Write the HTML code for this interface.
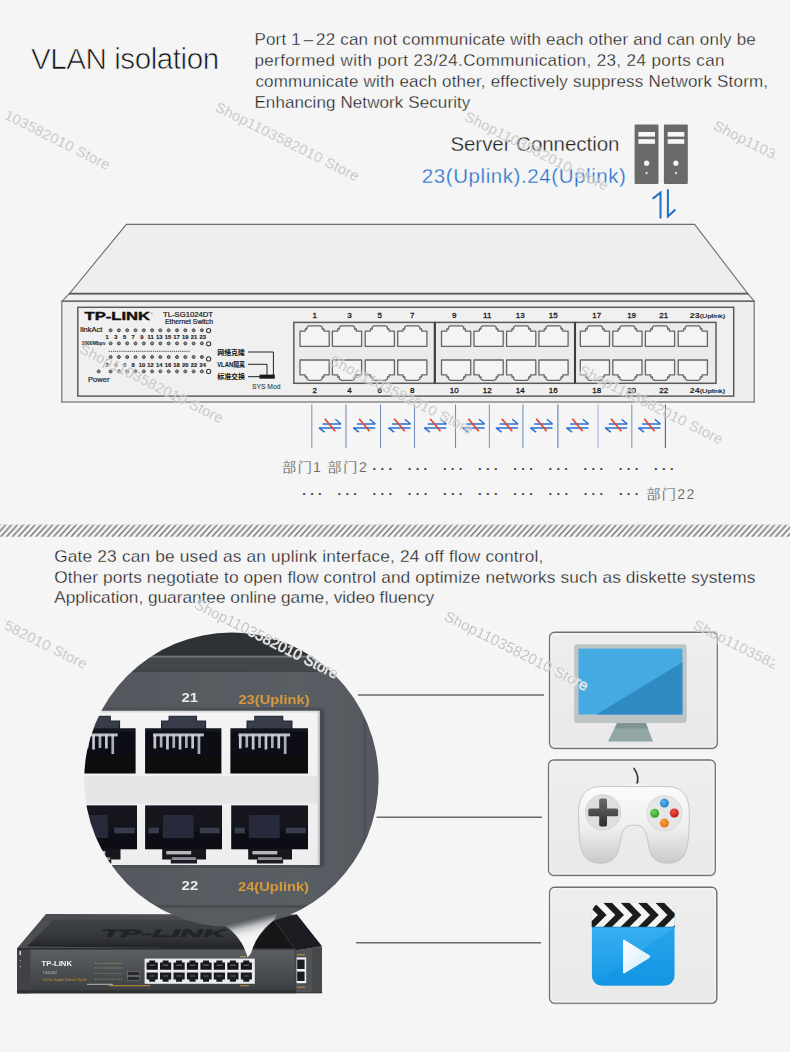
<!DOCTYPE html>
<html lang="en">
<head>
<meta charset="utf-8">
<title>VLAN isolation</title>
<style>
html,body{margin:0;padding:0;}
body{width:790px;height:1052px;overflow:hidden;background:#f5f5f5;position:relative;
  font-family:"Liberation Sans","Noto Sans CJK SC",sans-serif;color:#222;}
#stage{position:absolute;left:0;top:0;width:790px;height:1052px;overflow:hidden;background:#f5f5f5;}
.t{position:absolute;white-space:nowrap;margin:0;}
.thin{-webkit-text-stroke:0.3px #f5f5f5;}
#h1{left:30px;top:39px;font-size:29.6px;line-height:36px;color:#111;-webkit-text-stroke:0.7px #f5f5f5;}
.p1{left:255px;font-size:17px;line-height:20px;color:#1a1a1a;}
.p2{left:54px;font-size:17.3px;line-height:21px;color:#1a1a1a;}
#sc{left:450px;top:131px;font-size:20.5px;line-height:24px;color:#222;}
#up{left:423px;top:164px;font-size:20.5px;line-height:24px;color:#1e6fcb;}
svg{position:absolute;left:0;top:0;}
.wm{font-family:"Liberation Sans",sans-serif;font-size:15px;fill:#b9b9b9;fill-opacity:.85;stroke:#ffffff;stroke-width:1.2px;stroke-opacity:.5;paint-order:stroke;}
.wl{fill:#ececec;fill-opacity:.95;stroke:none;}
/*FIT*/
#h1{left:31.0px;top:41.0px;letter-spacing:-0.462px;}
#a1{left:254.4px;top:30.4px;letter-spacing:0.183px;}
#a2{left:254.4px;top:51.4px;letter-spacing:0.397px;}
#a3{left:255.4px;top:71.8px;letter-spacing:0.194px;}
#a4{left:254.4px;top:92.6px;letter-spacing:0.096px;}
#sc{left:450.4px;top:132.4px;letter-spacing:-0.049px;}
#up{left:421.8px;top:164.2px;letter-spacing:0.580px;}
#b1{left:54.2px;top:546.0px;letter-spacing:0.175px;}
#b2{left:54.2px;top:567.0px;letter-spacing:0.120px;}
#b3{left:54.2px;top:587.4px;letter-spacing:-0.029px;}
/*ENDFIT*/
</style>
</head>
<body>
<div id="stage">

<!-- GRAPHICS LAYER -->
<svg id="gfx" width="790" height="1052" viewBox="0 0 790 1052">
<defs>
  <pattern id="hatch" width="5.87" height="12.4" patternUnits="userSpaceOnUse" patternTransform="translate(0.6 524.5)">
    <path d="M-17.61 12.4 L-6.41 0 M-11.74 12.4 L-0.54 0 M-5.87 12.4 L5.33 0 M0 12.4 L11.2 0 M5.87 12.4 L17.07 0" stroke="#7d7d7d" stroke-width="1.55" fill="none"/>
  </pattern>
<!--BOXDEFS-->

  <linearGradient id="boxg" x1="0" y1="0" x2="0" y2="1"><stop offset="0" stop-color="#eeeeee"/><stop offset="1" stop-color="#e9e9e9"/></linearGradient>
  <linearGradient id="padg" x1="0" y1="0" x2="0" y2="1"><stop offset="0" stop-color="#fbfbfb"/><stop offset="0.55" stop-color="#eeeeee"/><stop offset="1" stop-color="#c9c9c9"/></linearGradient>
  <linearGradient id="dpadg" x1="0" y1="0" x2="0" y2="1"><stop offset="0" stop-color="#6a6a6a"/><stop offset="1" stop-color="#2e2e2e"/></linearGradient>
  <linearGradient id="dpadg2" x1="0" y1="0" x2="0" y2="1"><stop offset="0" stop-color="#585858"/><stop offset="1" stop-color="#444"/></linearGradient>
  <radialGradient id="bb" cx="0.4" cy="0.35" r="0.7"><stop offset="0" stop-color="#5db4ea"/><stop offset="1" stop-color="#1f7fc4"/></radialGradient>
  <radialGradient id="bg2" cx="0.4" cy="0.35" r="0.7"><stop offset="0" stop-color="#6fd45a"/><stop offset="1" stop-color="#2c9a2a"/></radialGradient>
  <radialGradient id="br" cx="0.4" cy="0.35" r="0.7"><stop offset="0" stop-color="#f0524a"/><stop offset="1" stop-color="#c01717"/></radialGradient>
  <radialGradient id="bo" cx="0.4" cy="0.35" r="0.7"><stop offset="0" stop-color="#f9a040"/><stop offset="1" stop-color="#e0700f"/></radialGradient>
  <linearGradient id="vidg" x1="0" y1="0" x2="0" y2="1"><stop offset="0" stop-color="#46b9f6"/><stop offset="1" stop-color="#1598e6"/></linearGradient>
  <linearGradient id="playg" x1="0" y1="0" x2="1" y2="1"><stop offset="0" stop-color="#ffffff"/><stop offset="1" stop-color="#cfeafc"/></linearGradient>
  <clipPath id="vidclip"><rect x="591.7" y="902.8" width="83" height="83" rx="10.5"/></clipPath>

<!--/BOXDEFS-->
<!--PHOTODEFS-->

  <filter id="soft" x="-0.05" y="-0.05" width="1.1" height="1.1"><feGaussianBlur stdDeviation="0.5"/></filter>
  <clipPath id="circ"><circle cx="231.4" cy="779.8" r="147.2"/></clipPath>
  <linearGradient id="frontg" x1="0" y1="0" x2="0" y2="1"><stop offset="0" stop-color="#5d6063"/><stop offset="0.5" stop-color="#4c4f52"/><stop offset="1" stop-color="#3a3c3f"/></linearGradient>
  <linearGradient id="topg" x1="0" y1="0" x2="0" y2="1"><stop offset="0" stop-color="#3f4245"/><stop offset="0.6" stop-color="#34373a"/><stop offset="1" stop-color="#202224"/></linearGradient>
  <linearGradient id="tailg" gradientUnits="userSpaceOnUse" x1="249" y1="919" x2="257.5" y2="954"><stop offset="0" stop-color="#585c61"/><stop offset="0.08" stop-color="#74777b"/><stop offset="0.22" stop-color="#c4c5c7"/><stop offset="0.38" stop-color="#ececed"/><stop offset="0.52" stop-color="#f5f5f5"/></linearGradient>
  <linearGradient id="portg" x1="0" y1="0" x2="0" y2="1"><stop offset="0" stop-color="#2b2f3a"/><stop offset="0.3" stop-color="#0e1018"/><stop offset="1" stop-color="#07080d"/></linearGradient>
  <linearGradient id="portg2" x1="0" y1="0" x2="0" y2="1"><stop offset="0" stop-color="#161821"/><stop offset="1" stop-color="#0c0d13"/></linearGradient>
  <linearGradient id="circbg" x1="0" y1="0" x2="1" y2="0"><stop offset="0" stop-color="#53575d"/><stop offset="0.7" stop-color="#5a5e64"/><stop offset="1" stop-color="#54585e"/></linearGradient>
  <linearGradient id="wpan" x1="0" y1="0" x2="0" y2="1"><stop offset="0" stop-color="#f4f4f5"/><stop offset="1" stop-color="#ededee"/></linearGradient>

<!--/PHOTODEFS-->
</defs>
<!--SWITCH-->
<g id="switch" font-family="'Liberation Sans','Noto Sans CJK SC',sans-serif">
<path d="M126.4 224.4 L694.6 224.4 L754.2 301 L754.2 402 L61.8 402 L61.8 301.4 Z" fill="#efefef" stroke="none"/>
<path d="M126.4 224.4 L694.6 224.4 L747.8 293.6 L69.4 293.6 Z" fill="#eeeeee" stroke="#6e6e6e" stroke-width="1.1" stroke-linejoin="miter"/>
<path d="M69.4 293.6 L61.8 301.4 M747.8 293.6 L754.2 301" stroke="#6e6e6e" stroke-width="1.1" fill="none"/>
<path d="M69 293.7 H748.2" stroke="#5a5a5a" stroke-width="1.7"/>
<rect x="61.8" y="301.3" width="692.4" height="100.7" fill="#eeeeee" stroke="#7a7a7a" stroke-width="1.3"/>
<path d="M61.8 301.3 H754.2" stroke="#666" stroke-width="1.4"/>
<rect x="77.8" y="307.3" width="655.9" height="88.8" fill="#f0f0f0" stroke="#5c5c5c" stroke-width="1.5"/>
<text x="84.6" y="319.7" font-size="10" font-weight="bold" fill="#111" stroke="#111" stroke-width=".35" textLength="65.5" lengthAdjust="spacingAndGlyphs">TP-LINK</text>
<text x="150.5" y="314.5" font-size="3" fill="#555">®</text>
<text x="163" y="316.5" font-size="7" fill="#1a1a1a" stroke="#1a1a1a" stroke-width=".2" textLength="50" lengthAdjust="spacingAndGlyphs">TL-SG1024DT</text>
<text x="165" y="323.6" font-size="6.8" fill="#1a1a1a" stroke="#1a1a1a" stroke-width=".2" textLength="48" lengthAdjust="spacingAndGlyphs">Ethernet Switch</text>
<text x="80.3" y="332.4" font-size="6.6" fill="#1a1a1a" stroke="#1a1a1a" stroke-width=".2" textLength="22" lengthAdjust="spacingAndGlyphs">linkAct</text>
<text x="81.6" y="345.3" font-size="5" font-weight="bold" fill="#222" textLength="24" lengthAdjust="spacingAndGlyphs">1000Mbps</text>
<text x="88" y="381.8" font-size="8" fill="#1a1a1a" stroke="#1a1a1a" stroke-width=".2" textLength="21.6" lengthAdjust="spacingAndGlyphs">Power</text>
<circle cx="110.6" cy="330.3" r="1.5" fill="#8a8a8a" stroke="#4a4a4a" stroke-width="1"/>
<circle cx="118.9" cy="330.3" r="1.5" fill="#8a8a8a" stroke="#4a4a4a" stroke-width="1"/>
<circle cx="127.2" cy="330.3" r="1.5" fill="#8a8a8a" stroke="#4a4a4a" stroke-width="1"/>
<circle cx="135.5" cy="330.3" r="1.5" fill="#8a8a8a" stroke="#4a4a4a" stroke-width="1"/>
<circle cx="143.8" cy="330.3" r="1.5" fill="#8a8a8a" stroke="#4a4a4a" stroke-width="1"/>
<circle cx="152.1" cy="330.3" r="1.5" fill="#8a8a8a" stroke="#4a4a4a" stroke-width="1"/>
<circle cx="160.4" cy="330.3" r="1.5" fill="#8a8a8a" stroke="#4a4a4a" stroke-width="1"/>
<circle cx="168.7" cy="330.3" r="1.5" fill="#8a8a8a" stroke="#4a4a4a" stroke-width="1"/>
<circle cx="177" cy="330.3" r="1.5" fill="#8a8a8a" stroke="#4a4a4a" stroke-width="1"/>
<circle cx="185.3" cy="330.3" r="1.5" fill="#8a8a8a" stroke="#4a4a4a" stroke-width="1"/>
<circle cx="193.6" cy="330.3" r="1.5" fill="#8a8a8a" stroke="#4a4a4a" stroke-width="1"/>
<circle cx="201.9" cy="330.3" r="1.5" fill="#8a8a8a" stroke="#4a4a4a" stroke-width="1"/>
<circle cx="208.6" cy="330.6" r="2.1" fill="#f4f4f4" stroke="#3a3a3a" stroke-width="1.1"/>
<circle cx="110.6" cy="343.4" r="1.5" fill="#8a8a8a" stroke="#4a4a4a" stroke-width="1"/>
<circle cx="118.9" cy="343.4" r="1.5" fill="#8a8a8a" stroke="#4a4a4a" stroke-width="1"/>
<circle cx="127.2" cy="343.4" r="1.5" fill="#8a8a8a" stroke="#4a4a4a" stroke-width="1"/>
<circle cx="135.5" cy="343.4" r="1.5" fill="#8a8a8a" stroke="#4a4a4a" stroke-width="1"/>
<circle cx="143.8" cy="343.4" r="1.5" fill="#8a8a8a" stroke="#4a4a4a" stroke-width="1"/>
<circle cx="152.1" cy="343.4" r="1.5" fill="#8a8a8a" stroke="#4a4a4a" stroke-width="1"/>
<circle cx="160.4" cy="343.4" r="1.5" fill="#8a8a8a" stroke="#4a4a4a" stroke-width="1"/>
<circle cx="168.7" cy="343.4" r="1.5" fill="#8a8a8a" stroke="#4a4a4a" stroke-width="1"/>
<circle cx="177" cy="343.4" r="1.5" fill="#8a8a8a" stroke="#4a4a4a" stroke-width="1"/>
<circle cx="185.3" cy="343.4" r="1.5" fill="#8a8a8a" stroke="#4a4a4a" stroke-width="1"/>
<circle cx="193.6" cy="343.4" r="1.5" fill="#8a8a8a" stroke="#4a4a4a" stroke-width="1"/>
<circle cx="201.9" cy="343.4" r="1.5" fill="#8a8a8a" stroke="#4a4a4a" stroke-width="1"/>
<circle cx="208.6" cy="343.8" r="2.1" fill="#f4f4f4" stroke="#3a3a3a" stroke-width="1.1"/>
<circle cx="110.6" cy="357" r="1.5" fill="#8a8a8a" stroke="#4a4a4a" stroke-width="1"/>
<circle cx="118.9" cy="357" r="1.5" fill="#8a8a8a" stroke="#4a4a4a" stroke-width="1"/>
<circle cx="127.2" cy="357" r="1.5" fill="#8a8a8a" stroke="#4a4a4a" stroke-width="1"/>
<circle cx="135.5" cy="357" r="1.5" fill="#8a8a8a" stroke="#4a4a4a" stroke-width="1"/>
<circle cx="143.8" cy="357" r="1.5" fill="#8a8a8a" stroke="#4a4a4a" stroke-width="1"/>
<circle cx="152.1" cy="357" r="1.5" fill="#8a8a8a" stroke="#4a4a4a" stroke-width="1"/>
<circle cx="160.4" cy="357" r="1.5" fill="#8a8a8a" stroke="#4a4a4a" stroke-width="1"/>
<circle cx="168.7" cy="357" r="1.5" fill="#8a8a8a" stroke="#4a4a4a" stroke-width="1"/>
<circle cx="177" cy="357" r="1.5" fill="#8a8a8a" stroke="#4a4a4a" stroke-width="1"/>
<circle cx="185.3" cy="357" r="1.5" fill="#8a8a8a" stroke="#4a4a4a" stroke-width="1"/>
<circle cx="193.6" cy="357" r="1.5" fill="#8a8a8a" stroke="#4a4a4a" stroke-width="1"/>
<circle cx="201.9" cy="357" r="1.5" fill="#8a8a8a" stroke="#4a4a4a" stroke-width="1"/>
<circle cx="208.6" cy="358.9" r="2.1" fill="#f4f4f4" stroke="#3a3a3a" stroke-width="1.1"/>
<circle cx="110.6" cy="371.4" r="1.5" fill="#8a8a8a" stroke="#4a4a4a" stroke-width="1"/>
<circle cx="118.9" cy="371.4" r="1.5" fill="#8a8a8a" stroke="#4a4a4a" stroke-width="1"/>
<circle cx="127.2" cy="371.4" r="1.5" fill="#8a8a8a" stroke="#4a4a4a" stroke-width="1"/>
<circle cx="135.5" cy="371.4" r="1.5" fill="#8a8a8a" stroke="#4a4a4a" stroke-width="1"/>
<circle cx="143.8" cy="371.4" r="1.5" fill="#8a8a8a" stroke="#4a4a4a" stroke-width="1"/>
<circle cx="152.1" cy="371.4" r="1.5" fill="#8a8a8a" stroke="#4a4a4a" stroke-width="1"/>
<circle cx="160.4" cy="371.4" r="1.5" fill="#8a8a8a" stroke="#4a4a4a" stroke-width="1"/>
<circle cx="168.7" cy="371.4" r="1.5" fill="#8a8a8a" stroke="#4a4a4a" stroke-width="1"/>
<circle cx="177" cy="371.4" r="1.5" fill="#8a8a8a" stroke="#4a4a4a" stroke-width="1"/>
<circle cx="185.3" cy="371.4" r="1.5" fill="#8a8a8a" stroke="#4a4a4a" stroke-width="1"/>
<circle cx="193.6" cy="371.4" r="1.5" fill="#8a8a8a" stroke="#4a4a4a" stroke-width="1"/>
<circle cx="201.9" cy="371.4" r="1.5" fill="#8a8a8a" stroke="#4a4a4a" stroke-width="1"/>
<circle cx="208.6" cy="371.4" r="2.1" fill="#f4f4f4" stroke="#3a3a3a" stroke-width="1.1"/>
<circle cx="98.7" cy="371.4" r="1.5" fill="#8a8a8a" stroke="#4a4a4a" stroke-width="1"/>
<path d="M108.7 351.3 H190.5" stroke="#555" stroke-width="1" stroke-dasharray="1.3 0.8"/>
<g font-size="5.8" font-weight="bold" fill="#1c1c1c" text-anchor="middle" stroke="#1c1c1c" stroke-width=".15">
<text x="107.2" y="338.7">1</text>
<text x="115.9" y="338.7">3</text>
<text x="124.6" y="338.7">5</text>
<text x="133.2" y="338.7">7</text>
<text x="141.9" y="338.7">9</text>
<text x="150.6" y="338.7">11</text>
<text x="159.3" y="338.7">13</text>
<text x="168" y="338.7">15</text>
<text x="176.6" y="338.7">17</text>
<text x="185.3" y="338.7">19</text>
<text x="194" y="338.7">21</text>
<text x="202.7" y="338.7">23</text>
<text x="107.2" y="366.5">2</text>
<text x="115.9" y="366.5">4</text>
<text x="124.6" y="366.5">6</text>
<text x="133.2" y="366.5">8</text>
<text x="141.9" y="366.5">10</text>
<text x="150.6" y="366.5">12</text>
<text x="159.3" y="366.5">14</text>
<text x="168" y="366.5">16</text>
<text x="176.6" y="366.5">18</text>
<text x="185.3" y="366.5">20</text>
<text x="194" y="366.5">22</text>
<text x="202.7" y="366.5">24</text>
</g>
<g font-size="6.6" font-weight="bold" fill="#111">
<text x="217.2" y="354.6" textLength="27.8" lengthAdjust="spacingAndGlyphs">网络克隆</text>
<text x="217.2" y="366.7" textLength="27.8" lengthAdjust="spacingAndGlyphs">VLAN隔离</text>
<text x="217.2" y="379.2" textLength="27.8" lengthAdjust="spacingAndGlyphs">标准交换</text>
</g>
<path d="M248 352 H273.4 V375 M248 364.3 H267 V375 M248 376.7 H260" stroke="#222" stroke-width="1" fill="none"/>
<rect x="259.5" y="374.6" width="15.3" height="4.1" fill="#1a1a1a"/>
<text x="252" y="388.8" font-size="6.8" fill="#222" textLength="28.5" lengthAdjust="spacingAndGlyphs">SYS Mod</text>
<rect x="293.8" y="322.4" width="141" height="60.9" fill="#ebebeb" stroke="#5a5a5a" stroke-width="1.5"/>
<path d="M300 346.3 V331.1 H305.3 V329 H307 V327.1 L308.8 325.8 H320.4 L322.2 327.1 V329 H323.9 V331.1 H329.2 V346.3 Z" fill="#f4f4f4" stroke="#666" stroke-width="1.3" stroke-linejoin="round"/>
<path d="M300 360 V374.9 H305.3 V377 H307 V379 L308.8 380.3 H320.4 L322.2 379 V377 H323.9 V374.9 H329.2 V360 Z" fill="#f4f4f4" stroke="#666" stroke-width="1.3" stroke-linejoin="round"/>
<text x="314.7" y="318.3" font-size="8" fill="#1a1a1a" stroke="#1a1a1a" stroke-width=".3" text-anchor="middle">1</text>
<text x="314.7" y="392.9" font-size="8" fill="#1a1a1a" stroke="#1a1a1a" stroke-width=".3" text-anchor="middle">2</text>
<path d="M332.4 346.3 V331.1 H337.7 V329 H339.4 V327.1 L341.2 325.8 H352.8 L354.6 327.1 V329 H356.3 V331.1 H361.6 V346.3 Z" fill="#f4f4f4" stroke="#666" stroke-width="1.3" stroke-linejoin="round"/>
<path d="M332.4 360 V374.9 H337.7 V377 H339.4 V379 L341.2 380.3 H352.8 L354.6 379 V377 H356.3 V374.9 H361.6 V360 Z" fill="#f4f4f4" stroke="#666" stroke-width="1.3" stroke-linejoin="round"/>
<text x="349.4" y="318.3" font-size="8" fill="#1a1a1a" stroke="#1a1a1a" stroke-width=".3" text-anchor="middle">3</text>
<text x="349.4" y="392.9" font-size="8" fill="#1a1a1a" stroke="#1a1a1a" stroke-width=".3" text-anchor="middle">4</text>
<path d="M365.2 346.3 V331.1 H370.5 V329 H372.2 V327.1 L374 325.8 H385.6 L387.4 327.1 V329 H389.1 V331.1 H394.4 V346.3 Z" fill="#f4f4f4" stroke="#666" stroke-width="1.3" stroke-linejoin="round"/>
<path d="M365.2 360 V374.9 H370.5 V377 H372.2 V379 L374 380.3 H385.6 L387.4 379 V377 H389.1 V374.9 H394.4 V360 Z" fill="#f4f4f4" stroke="#666" stroke-width="1.3" stroke-linejoin="round"/>
<text x="379.7" y="318.3" font-size="8" fill="#1a1a1a" stroke="#1a1a1a" stroke-width=".3" text-anchor="middle">5</text>
<text x="379.7" y="392.9" font-size="8" fill="#1a1a1a" stroke="#1a1a1a" stroke-width=".3" text-anchor="middle">6</text>
<path d="M397.7 346.3 V331.1 H403 V329 H404.7 V327.1 L406.5 325.8 H418.1 L419.9 327.1 V329 H421.6 V331.1 H426.9 V346.3 Z" fill="#f4f4f4" stroke="#666" stroke-width="1.3" stroke-linejoin="round"/>
<path d="M397.7 360 V374.9 H403 V377 H404.7 V379 L406.5 380.3 H418.1 L419.9 379 V377 H421.6 V374.9 H426.9 V360 Z" fill="#f4f4f4" stroke="#666" stroke-width="1.3" stroke-linejoin="round"/>
<text x="412.2" y="318.3" font-size="8" fill="#1a1a1a" stroke="#1a1a1a" stroke-width=".3" text-anchor="middle">7</text>
<text x="412.2" y="392.9" font-size="8" fill="#1a1a1a" stroke="#1a1a1a" stroke-width=".3" text-anchor="middle">8</text>
<rect x="434.8" y="322.4" width="140.2" height="60.9" fill="#ebebeb" stroke="#5a5a5a" stroke-width="1.5"/>
<path d="M441.5 346.3 V331.1 H446.8 V329 H448.5 V327.1 L450.3 325.8 H461.9 L463.7 327.1 V329 H465.4 V331.1 H470.7 V346.3 Z" fill="#f4f4f4" stroke="#666" stroke-width="1.3" stroke-linejoin="round"/>
<path d="M441.5 360 V374.9 H446.8 V377 H448.5 V379 L450.3 380.3 H461.9 L463.7 379 V377 H465.4 V374.9 H470.7 V360 Z" fill="#f4f4f4" stroke="#666" stroke-width="1.3" stroke-linejoin="round"/>
<text x="454.2" y="318.3" font-size="8" fill="#1a1a1a" stroke="#1a1a1a" stroke-width=".3" text-anchor="middle">9</text>
<text x="454.2" y="392.9" font-size="8" fill="#1a1a1a" stroke="#1a1a1a" stroke-width=".3" text-anchor="middle">10</text>
<path d="M474 346.3 V331.1 H479.3 V329 H481 V327.1 L482.8 325.8 H494.4 L496.2 327.1 V329 H497.9 V331.1 H503.2 V346.3 Z" fill="#f4f4f4" stroke="#666" stroke-width="1.3" stroke-linejoin="round"/>
<path d="M474 360 V374.9 H479.3 V377 H481 V379 L482.8 380.3 H494.4 L496.2 379 V377 H497.9 V374.9 H503.2 V360 Z" fill="#f4f4f4" stroke="#666" stroke-width="1.3" stroke-linejoin="round"/>
<text x="487.2" y="318.3" font-size="8" fill="#1a1a1a" stroke="#1a1a1a" stroke-width=".3" text-anchor="middle">11</text>
<text x="487.2" y="392.9" font-size="8" fill="#1a1a1a" stroke="#1a1a1a" stroke-width=".3" text-anchor="middle">12</text>
<path d="M506.6 346.3 V331.1 H511.9 V329 H513.6 V327.1 L515.4 325.8 H527 L528.8 327.1 V329 H530.5 V331.1 H535.8 V346.3 Z" fill="#f4f4f4" stroke="#666" stroke-width="1.3" stroke-linejoin="round"/>
<path d="M506.6 360 V374.9 H511.9 V377 H513.6 V379 L515.4 380.3 H527 L528.8 379 V377 H530.5 V374.9 H535.8 V360 Z" fill="#f4f4f4" stroke="#666" stroke-width="1.3" stroke-linejoin="round"/>
<text x="520.3" y="318.3" font-size="8" fill="#1a1a1a" stroke="#1a1a1a" stroke-width=".3" text-anchor="middle">13</text>
<text x="520.3" y="392.9" font-size="8" fill="#1a1a1a" stroke="#1a1a1a" stroke-width=".3" text-anchor="middle">14</text>
<path d="M538.9 346.3 V331.1 H544.2 V329 H545.9 V327.1 L547.7 325.8 H559.3 L561.1 327.1 V329 H562.8 V331.1 H568.1 V346.3 Z" fill="#f4f4f4" stroke="#666" stroke-width="1.3" stroke-linejoin="round"/>
<path d="M538.9 360 V374.9 H544.2 V377 H545.9 V379 L547.7 380.3 H559.3 L561.1 379 V377 H562.8 V374.9 H568.1 V360 Z" fill="#f4f4f4" stroke="#666" stroke-width="1.3" stroke-linejoin="round"/>
<text x="553.3" y="318.3" font-size="8" fill="#1a1a1a" stroke="#1a1a1a" stroke-width=".3" text-anchor="middle">15</text>
<text x="553.3" y="392.9" font-size="8" fill="#1a1a1a" stroke="#1a1a1a" stroke-width=".3" text-anchor="middle">16</text>
<rect x="575" y="322.4" width="141" height="60.9" fill="#ebebeb" stroke="#5a5a5a" stroke-width="1.5"/>
<path d="M580.3 346.3 V331.1 H585.6 V329 H587.3 V327.1 L589.1 325.8 H600.7 L602.5 327.1 V329 H604.2 V331.1 H609.5 V346.3 Z" fill="#f4f4f4" stroke="#666" stroke-width="1.3" stroke-linejoin="round"/>
<path d="M580.3 360 V374.9 H585.6 V377 H587.3 V379 L589.1 380.3 H600.7 L602.5 379 V377 H604.2 V374.9 H609.5 V360 Z" fill="#f4f4f4" stroke="#666" stroke-width="1.3" stroke-linejoin="round"/>
<text x="596.7" y="318.3" font-size="8" fill="#1a1a1a" stroke="#1a1a1a" stroke-width=".3" text-anchor="middle">17</text>
<text x="596.7" y="392.9" font-size="8" fill="#1a1a1a" stroke="#1a1a1a" stroke-width=".3" text-anchor="middle">18</text>
<path d="M612.8 346.3 V331.1 H618.1 V329 H619.8 V327.1 L621.6 325.8 H633.2 L635 327.1 V329 H636.7 V331.1 H642 V346.3 Z" fill="#f4f4f4" stroke="#666" stroke-width="1.3" stroke-linejoin="round"/>
<path d="M612.8 360 V374.9 H618.1 V377 H619.8 V379 L621.6 380.3 H633.2 L635 379 V377 H636.7 V374.9 H642 V360 Z" fill="#f4f4f4" stroke="#666" stroke-width="1.3" stroke-linejoin="round"/>
<text x="631.6" y="318.3" font-size="8" fill="#1a1a1a" stroke="#1a1a1a" stroke-width=".3" text-anchor="middle">19</text>
<text x="631.6" y="392.9" font-size="8" fill="#1a1a1a" stroke="#1a1a1a" stroke-width=".3" text-anchor="middle">20</text>
<path d="M645.4 346.3 V331.1 H650.7 V329 H652.4 V327.1 L654.2 325.8 H665.8 L667.6 327.1 V329 H669.3 V331.1 H674.6 V346.3 Z" fill="#f4f4f4" stroke="#666" stroke-width="1.3" stroke-linejoin="round"/>
<path d="M645.4 360 V374.9 H650.7 V377 H652.4 V379 L654.2 380.3 H665.8 L667.6 379 V377 H669.3 V374.9 H674.6 V360 Z" fill="#f4f4f4" stroke="#666" stroke-width="1.3" stroke-linejoin="round"/>
<text x="663.8" y="318.3" font-size="8" fill="#1a1a1a" stroke="#1a1a1a" stroke-width=".3" text-anchor="middle">21</text>
<text x="663.8" y="392.9" font-size="8" fill="#1a1a1a" stroke="#1a1a1a" stroke-width=".3" text-anchor="middle">22</text>
<path d="M678.2 346.3 V331.1 H683.5 V329 H685.2 V327.1 L687 325.8 H698.6 L700.4 327.1 V329 H702.1 V331.1 H707.4 V346.3 Z" fill="#f4f4f4" stroke="#666" stroke-width="1.3" stroke-linejoin="round"/>
<path d="M678.2 360 V374.9 H683.5 V377 H685.2 V379 L687 380.3 H698.6 L700.4 379 V377 H702.1 V374.9 H707.4 V360 Z" fill="#f4f4f4" stroke="#666" stroke-width="1.3" stroke-linejoin="round"/>
<text x="689.8" y="318.3" font-size="7.4" font-weight="bold" fill="#1c1c1c" textLength="35.4" lengthAdjust="spacingAndGlyphs">23<tspan font-size="6.2" font-weight="normal" stroke="#1c1c1c" stroke-width=".2">(Uplink)</tspan></text>
<text x="689.8" y="392.9" font-size="7.4" font-weight="bold" fill="#1c1c1c" textLength="35.4" lengthAdjust="spacingAndGlyphs">24<tspan font-size="6.2" font-weight="normal" stroke="#1c1c1c" stroke-width=".2">(Uplink)</tspan></text>
<path d="M434.8 322.4 V383.3 M575 322.4 V383.3" stroke="#3c3c3c" stroke-width="2.1"/>
</g>
<!--/SWITCH-->
<!--ARROWS-->
<g id="isolation">
<path d="M311.8 404.6 V448" stroke="#7d9cc6" stroke-width="1.1"/>
<path d="M346 404.6 V448" stroke="#6f8fbd" stroke-width="1.1"/>
<path d="M380.5 404.6 V448" stroke="#6f8fbd" stroke-width="1.1"/>
<path d="M414.5 404.6 V448" stroke="#6f8fbd" stroke-width="1.1"/>
<path d="M455.5 404.6 V448" stroke="#6f8fbd" stroke-width="1.1"/>
<path d="M489.4 404.6 V448" stroke="#7d9cc6" stroke-width="1.1"/>
<path d="M522.9 404.6 V448" stroke="#6f8fbd" stroke-width="1.1"/>
<path d="M557.9 404.6 V448" stroke="#5f80b3" stroke-width="1.1"/>
<path d="M598 404.6 V448" stroke="#9fb6d6" stroke-width="1.1"/>
<path d="M631.8 404.6 V448" stroke="#7d9cc6" stroke-width="1.1"/>
<path d="M665.4 404.6 V448" stroke="#3f68a8" stroke-width="1.1"/>
<path d="M322.6 424 H341 L335.4 419.3 M341 427.9 H319 L324.6 432.2" stroke="#2b6fd2" stroke-width="1.5" fill="none" stroke-linejoin="bevel"/>
<path d="M324.8 418.8 L335.2 431.3" stroke="#e2472d" stroke-width="1.7"/>
<path d="M356.9 424 H375.3 L369.7 419.3 M375.3 427.9 H353.3 L358.9 432.2" stroke="#2b6fd2" stroke-width="1.5" fill="none" stroke-linejoin="bevel"/>
<path d="M359.1 418.8 L369.5 431.3" stroke="#e2472d" stroke-width="1.7"/>
<path d="M392.1 424 H410.5 L404.9 419.3 M410.5 427.9 H388.5 L394.1 432.2" stroke="#2b6fd2" stroke-width="1.5" fill="none" stroke-linejoin="bevel"/>
<path d="M394.3 418.8 L404.7 431.3" stroke="#e2472d" stroke-width="1.7"/>
<path d="M427.9 424 H446.3 L440.7 419.3 M446.3 427.9 H424.3 L429.9 432.2" stroke="#2b6fd2" stroke-width="1.5" fill="none" stroke-linejoin="bevel"/>
<path d="M430.1 418.8 L440.5 431.3" stroke="#e2472d" stroke-width="1.7"/>
<path d="M466.2 424 H484.6 L479 419.3 M484.6 427.9 H462.6 L468.2 432.2" stroke="#2b6fd2" stroke-width="1.5" fill="none" stroke-linejoin="bevel"/>
<path d="M468.4 418.8 L478.8 431.3" stroke="#e2472d" stroke-width="1.7"/>
<path d="M499.6 424 H518 L512.4 419.3 M518 427.9 H496 L501.6 432.2" stroke="#2b6fd2" stroke-width="1.5" fill="none" stroke-linejoin="bevel"/>
<path d="M501.8 418.8 L512.2 431.3" stroke="#e2472d" stroke-width="1.7"/>
<path d="M534.1 424 H552.5 L546.9 419.3 M552.5 427.9 H530.5 L536.1 432.2" stroke="#2b6fd2" stroke-width="1.5" fill="none" stroke-linejoin="bevel"/>
<path d="M536.3 418.8 L546.7 431.3" stroke="#e2472d" stroke-width="1.7"/>
<path d="M570.1 424 H588.5 L582.9 419.3 M588.5 427.9 H566.5 L572.1 432.2" stroke="#2b6fd2" stroke-width="1.5" fill="none" stroke-linejoin="bevel"/>
<path d="M572.3 418.8 L582.7 431.3" stroke="#e2472d" stroke-width="1.7"/>
<path d="M608.8 424 H627.2 L621.6 419.3 M627.2 427.9 H605.2 L610.8 432.2" stroke="#2b6fd2" stroke-width="1.5" fill="none" stroke-linejoin="bevel"/>
<path d="M611 418.8 L621.4 431.3" stroke="#e2472d" stroke-width="1.7"/>
<path d="M642 424 H660.4 L654.8 419.3 M660.4 427.9 H638.4 L644 432.2" stroke="#2b6fd2" stroke-width="1.5" fill="none" stroke-linejoin="bevel"/>
<path d="M644.2 418.8 L654.6 431.3" stroke="#e2472d" stroke-width="1.7"/>
<g font-family="'Liberation Sans','Noto Sans CJK SC',sans-serif" font-size="14" fill="#222" stroke="#f5f5f5" stroke-width=".35">
<text x="282.3" y="472.3" textLength="38.6" lengthAdjust="spacing">部门1</text>
<text x="327.5" y="472.3" textLength="39.4" lengthAdjust="spacing">部门2</text>
<text x="646.4" y="498.6" textLength="47.8" lengthAdjust="spacing">部门22</text>
</g>
<g font-family="'Liberation Sans',sans-serif" font-size="13" font-weight="bold" fill="#3c3c3c">
<text x="372.5 380.5 388.4" y="473.2">···</text>
<text x="407.7 415.7 423.6" y="473.2">···</text>
<text x="442.9 450.8 458.8" y="473.2">···</text>
<text x="478.1 486 494" y="473.2">···</text>
<text x="513.3 521.2 529.2" y="473.2">···</text>
<text x="548.4 556.4 564.3" y="473.2">···</text>
<text x="583.6 591.6 599.5" y="473.2">···</text>
<text x="618.8 626.7 634.7" y="473.2">···</text>
<text x="654 661.9 669.9" y="473.2">···</text>
<text x="302.2 310.2 318.1" y="497.6">···</text>
<text x="337.4 345.4 353.3" y="497.6">···</text>
<text x="372.6 380.5 388.5" y="497.6">···</text>
<text x="407.8 415.7 423.7" y="497.6">···</text>
<text x="442.9 450.9 458.8" y="497.6">···</text>
<text x="478.1 486.1 494" y="497.6">···</text>
<text x="513.3 521.3 529.2" y="497.6">···</text>
<text x="548.5 556.4 564.4" y="497.6">···</text>
<text x="583.7 591.6 599.6" y="497.6">···</text>
<text x="618.9 626.8 634.8" y="497.6">···</text>
</g>
</g>
<!--/ARROWS-->
<!--SERVERS-->
<g id="servers">
<rect x="634.6" y="124.4" width="23.9" height="59.6" rx="1.2" fill="#6a6a6a"/>
<rect x="638.4" y="132" width="16.6" height="4.6" fill="#f7f7f7"/>
<rect x="638.4" y="139.2" width="16.6" height="4.6" fill="#f7f7f7"/>
<circle cx="646.6" cy="163.2" r="2.6" fill="#f7f7f7"/>
<circle cx="646.6" cy="173.1" r="1.1" fill="#f7f7f7"/>
<rect x="663.9" y="124.4" width="23.9" height="59.6" rx="1.2" fill="#6a6a6a"/>
<rect x="667.7" y="132" width="16.6" height="4.6" fill="#f7f7f7"/>
<rect x="667.7" y="139.2" width="16.6" height="4.6" fill="#f7f7f7"/>
<circle cx="675.9" cy="163.2" r="2.6" fill="#f7f7f7"/>
<circle cx="675.9" cy="173.1" r="1.1" fill="#f7f7f7"/>
<path d="M660.5 218.6 V192.6 L652.6 198.8 M667.9 189.2 V216.4 L675.4 209.6" stroke="#1f6fc9" stroke-width="2" fill="none" stroke-linejoin="miter"/>
</g>
<!--/SERVERS-->
<!-- hatched divider -->
<rect x="0" y="524.5" width="790" height="12.4" fill="url(#hatch)"/>
<!--PHOTO-->
<g id="photo">
<g id="smallswitch" filter="url(#soft)">
<path d="M46 914 L296.8 914.4 L321.9 946.3 L295.3 950.4 L17.1 948.2 Z" fill="#4b4e51"/>
<path d="M54 919.5 L292 919.8 L314 945.5 L294 949 L27 946.5 Z" fill="url(#topg)"/>
<path d="M274 919.7 L296.8 914.4 L321.9 946.3 L295.3 950.4 Z" fill="#1d1f21"/>
<path d="M274 919.7 L295.3 950.4 L246 951 Z" fill="#151719"/>
<path d="M274 919.7 L295.3 950.4" stroke="#3a3d40" stroke-width=".8"/>
<text x="100" y="936" font-family="'Liberation Sans',sans-serif" font-weight="bold" font-size="10.5" fill="#232527" stroke="#232527" stroke-width=".5" textLength="125" lengthAdjust="spacingAndGlyphs" transform="skewX(-28) translate(497.5 0.8)">TP-LINK</text>
<rect x="17.1" y="948" width="278.4" height="45.3" fill="url(#frontg)"/>
<rect x="17.1" y="948" width="13.3" height="45.3" fill="#3f4245"/>
<rect x="17.1" y="948" width="278.4" height="1.6" fill="#2c2e30"/>
<rect x="17.1" y="990.3" width="305" height="3" fill="#2f3133"/>
<path d="M295.3 950.2 L321.9 946.3 V992.2 H295.3 Z" fill="#505356"/>
<path d="M295.3 950.2 V992" stroke="#3a3c3f" stroke-width="1"/>
<rect x="312" y="947.8" width="9.9" height="44" fill="#44474a"/>
<text x="41.5" y="966.2" font-family="'Liberation Sans',sans-serif" font-weight="bold" font-size="7.2" fill="#f2f2f2" textLength="30.5" lengthAdjust="spacingAndGlyphs">TP-LINK</text>
<text x="42.5" y="974.3" font-family="'Liberation Sans',sans-serif" font-size="3.4" fill="#c9c9c9" textLength="14.5" lengthAdjust="spacingAndGlyphs">TL-SG1024DT</text>
<text x="42.5" y="980.6" font-family="'Liberation Sans',sans-serif" font-size="3.2" fill="#c9922f" textLength="44.5" lengthAdjust="spacingAndGlyphs">24-Port Gigabit Ethernet Switch</text>
<rect x="95" y="962.9" width="1.2" height="1" fill="#7f9b6a"/>
<rect x="97.3" y="962.9" width="1.2" height="1" fill="#7f9b6a"/>
<rect x="99.7" y="962.9" width="1.2" height="1" fill="#7f9b6a"/>
<rect x="102" y="962.9" width="1.2" height="1" fill="#7f9b6a"/>
<rect x="104.4" y="962.9" width="1.2" height="1" fill="#7f9b6a"/>
<rect x="106.8" y="962.9" width="1.2" height="1" fill="#7f9b6a"/>
<rect x="109.1" y="962.9" width="1.2" height="1" fill="#7f9b6a"/>
<rect x="111.5" y="962.9" width="1.2" height="1" fill="#7f9b6a"/>
<rect x="113.8" y="962.9" width="1.2" height="1" fill="#7f9b6a"/>
<rect x="116.2" y="962.9" width="1.2" height="1" fill="#7f9b6a"/>
<rect x="118.5" y="962.9" width="1.2" height="1" fill="#7f9b6a"/>
<rect x="120.8" y="962.9" width="1.2" height="1" fill="#7f9b6a"/>
<rect x="95" y="967.5" width="1.2" height="1" fill="#7f9b6a"/>
<rect x="97.3" y="967.5" width="1.2" height="1" fill="#7f9b6a"/>
<rect x="99.7" y="967.5" width="1.2" height="1" fill="#7f9b6a"/>
<rect x="102" y="967.5" width="1.2" height="1" fill="#7f9b6a"/>
<rect x="104.4" y="967.5" width="1.2" height="1" fill="#7f9b6a"/>
<rect x="106.8" y="967.5" width="1.2" height="1" fill="#7f9b6a"/>
<rect x="109.1" y="967.5" width="1.2" height="1" fill="#7f9b6a"/>
<rect x="111.5" y="967.5" width="1.2" height="1" fill="#7f9b6a"/>
<rect x="113.8" y="967.5" width="1.2" height="1" fill="#7f9b6a"/>
<rect x="116.2" y="967.5" width="1.2" height="1" fill="#7f9b6a"/>
<rect x="118.5" y="967.5" width="1.2" height="1" fill="#7f9b6a"/>
<rect x="120.8" y="967.5" width="1.2" height="1" fill="#7f9b6a"/>
<rect x="95" y="978.7" width="1.2" height="1" fill="#7f9b6a"/>
<rect x="97.3" y="978.7" width="1.2" height="1" fill="#7f9b6a"/>
<rect x="99.7" y="978.7" width="1.2" height="1" fill="#7f9b6a"/>
<rect x="102" y="978.7" width="1.2" height="1" fill="#7f9b6a"/>
<rect x="104.4" y="978.7" width="1.2" height="1" fill="#7f9b6a"/>
<rect x="106.8" y="978.7" width="1.2" height="1" fill="#7f9b6a"/>
<rect x="109.1" y="978.7" width="1.2" height="1" fill="#7f9b6a"/>
<rect x="111.5" y="978.7" width="1.2" height="1" fill="#7f9b6a"/>
<rect x="113.8" y="978.7" width="1.2" height="1" fill="#7f9b6a"/>
<rect x="116.2" y="978.7" width="1.2" height="1" fill="#7f9b6a"/>
<rect x="118.5" y="978.7" width="1.2" height="1" fill="#7f9b6a"/>
<rect x="120.8" y="978.7" width="1.2" height="1" fill="#7f9b6a"/>
<rect x="95" y="973" width="27" height=".7" fill="#6d706f"/>
<rect x="127.6" y="971.5" width="12" height="4" fill="#2a2c2e" stroke="#8a8c8e" stroke-width=".5"/>
<rect x="127.6" y="976.6" width="12" height="4" fill="#2a2c2e" stroke="#8a8c8e" stroke-width=".5"/>
<rect x="87" y="983.8" width="26" height=".9" fill="#c8c8c8"/>
<rect x="109" y="985.2" width="41" height="1" fill="#c9922f"/>
<rect x="19.5" y="951" width="1.4" height="4" fill="#e8e8e8"/><rect x="19.8" y="960" width="1" height="1.2" fill="#bbb"/><rect x="19.8" y="966" width="1" height="1.2" fill="#bbb"/>
<rect x="144.6" y="958.6" width="110.2" height="25.2" fill="#ececee"/>
<path d="M146.6 969.8 V962.6 H149.2 V960.6 H155.2 V962.6 H157.8 V969.8 Z" fill="#14161e"/>
<path d="M146.6 972.4 V979.6 H149.2 V981.8 H155.2 V979.6 H157.8 V972.4 Z" fill="#181a22"/>
<rect x="149.4" y="964.6" width="5.6" height="1.2" fill="#8d93a3" opacity=".7"/>
<rect x="149.7" y="975.2" width="5" height="1.6" fill="#4f5563" opacity=".8"/>
<path d="M160 969.8 V962.6 H162.6 V960.6 H168.6 V962.6 H171.2 V969.8 Z" fill="#14161e"/>
<path d="M160 972.4 V979.6 H162.6 V981.8 H168.6 V979.6 H171.2 V972.4 Z" fill="#181a22"/>
<rect x="162.8" y="964.6" width="5.6" height="1.2" fill="#8d93a3" opacity=".7"/>
<rect x="163.1" y="975.2" width="5" height="1.6" fill="#4f5563" opacity=".8"/>
<path d="M173.5 969.8 V962.6 H176.1 V960.6 H182.1 V962.6 H184.7 V969.8 Z" fill="#14161e"/>
<path d="M173.5 972.4 V979.6 H176.1 V981.8 H182.1 V979.6 H184.7 V972.4 Z" fill="#181a22"/>
<rect x="176.3" y="964.6" width="5.6" height="1.2" fill="#8d93a3" opacity=".7"/>
<rect x="176.6" y="975.2" width="5" height="1.6" fill="#4f5563" opacity=".8"/>
<path d="M186.9 969.8 V962.6 H189.5 V960.6 H195.5 V962.6 H198.1 V969.8 Z" fill="#14161e"/>
<path d="M186.9 972.4 V979.6 H189.5 V981.8 H195.5 V979.6 H198.1 V972.4 Z" fill="#181a22"/>
<rect x="189.8" y="964.6" width="5.6" height="1.2" fill="#8d93a3" opacity=".7"/>
<rect x="190" y="975.2" width="5" height="1.6" fill="#4f5563" opacity=".8"/>
<path d="M200.4 969.8 V962.6 H203 V960.6 H209 V962.6 H211.6 V969.8 Z" fill="#14161e"/>
<path d="M200.4 972.4 V979.6 H203 V981.8 H209 V979.6 H211.6 V972.4 Z" fill="#181a22"/>
<rect x="203.2" y="964.6" width="5.6" height="1.2" fill="#8d93a3" opacity=".7"/>
<rect x="203.5" y="975.2" width="5" height="1.6" fill="#4f5563" opacity=".8"/>
<path d="M213.8 969.8 V962.6 H216.4 V960.6 H222.4 V962.6 H225 V969.8 Z" fill="#14161e"/>
<path d="M213.8 972.4 V979.6 H216.4 V981.8 H222.4 V979.6 H225 V972.4 Z" fill="#181a22"/>
<rect x="216.7" y="964.6" width="5.6" height="1.2" fill="#8d93a3" opacity=".7"/>
<rect x="216.9" y="975.2" width="5" height="1.6" fill="#4f5563" opacity=".8"/>
<path d="M227.3 969.8 V962.6 H229.9 V960.6 H235.9 V962.6 H238.5 V969.8 Z" fill="#14161e"/>
<path d="M227.3 972.4 V979.6 H229.9 V981.8 H235.9 V979.6 H238.5 V972.4 Z" fill="#181a22"/>
<rect x="230.1" y="964.6" width="5.6" height="1.2" fill="#8d93a3" opacity=".7"/>
<rect x="230.4" y="975.2" width="5" height="1.6" fill="#4f5563" opacity=".8"/>
<path d="M240.8 969.8 V962.6 H243.3 V960.6 H249.3 V962.6 H251.9 V969.8 Z" fill="#14161e"/>
<path d="M240.8 972.4 V979.6 H243.3 V981.8 H249.3 V979.6 H251.9 V972.4 Z" fill="#181a22"/>
<rect x="243.6" y="964.6" width="5.6" height="1.2" fill="#8d93a3" opacity=".7"/>
<rect x="243.8" y="975.2" width="5" height="1.6" fill="#4f5563" opacity=".8"/>
<rect x="240" y="956.3" width="6" height="1" fill="#b6b04a"/>
<rect x="240" y="985.2" width="9" height="1" fill="#c9922f"/>
<rect x="296.6" y="957.4" width="9.6" height="25.8" fill="#f0f0f1"/>
<rect x="297.2" y="959.6" width="7.4" height="9.4" fill="#171a24"/><rect x="297.2" y="971.6" width="7.4" height="9.4" fill="#171a24"/>
<rect x="297" y="954.2" width="8" height="1" fill="#c9922f"/><rect x="297" y="986.6" width="8" height="1" fill="#c9922f"/>
</g>
<g clip-path="url(#circ)"><g filter="url(#soft)">
<rect x="70" y="620" width="325" height="325" fill="url(#circbg)"/>
<rect x="80" y="630" width="305" height="26" fill="#2d3034"/>
<rect x="80" y="655.6" width="305" height="2.2" fill="#6d7075"/>
<rect x="80" y="657.8" width="305" height="12.8" fill="#43464b"/>
<rect x="80" y="670.6" width="305" height="1.4" fill="#3c3f44"/>
<rect x="363.6" y="672" width="2.4" height="260" fill="#4b4f54"/>
<rect x="366" y="672" width="30" height="260" fill="#54585e"/>
<rect x="80" y="905" width="305" height="3" fill="#4a4e53"/>
<rect x="80" y="908" width="305" height="30" fill="#585c61"/>
<rect x="60" y="710.6" width="259.8" height="154.4" fill="url(#wpan)"/>
<rect x="60" y="776" width="259.8" height="27.5" fill="#e6e6e8"/>
<rect x="60" y="710.6" width="259.8" height="2" fill="#dcdcde"/>
<rect x="317.4" y="710.6" width="2.4" height="154.4" fill="#d4d4d7"/>
<rect x="319.8" y="708.6" width="4.6" height="158.6" fill="#474b50"/>
<rect x="60" y="707.6" width="262" height="3" fill="#4b4f54"/>
<rect x="60" y="865" width="262" height="2.6" fill="#4b4f54"/>
<path d="M58 773.4 V728.3 H74.1 V720.4 H81.8 V715.8 H110.9 V720.4 H120.1 V728.3 H135.6 V773.4 Z" fill="url(#portg)"/>
<path d="M75.1 728.3 V721.4 H82.8 V716.8 H109.9 V721.4 H119.1 V728.3 Z" fill="#3b3f4c" opacity=".9"/>
<rect x="66.1" y="733.4" width="51.6" height="3" fill="#c9cdd7" opacity=".9"/>
<rect x="66.5" y="735" width="2.7" height="13.5" fill="#d9dce4" opacity="0.9"/>
<rect x="73" y="735" width="2.7" height="12.5" fill="#d9dce4" opacity="0.78"/>
<rect x="79.4" y="735" width="2.7" height="14.5" fill="#d9dce4" opacity="0.9"/>
<rect x="85.8" y="735" width="2.7" height="13" fill="#d9dce4" opacity="0.78"/>
<rect x="92.2" y="735" width="2.7" height="14.5" fill="#d9dce4" opacity="0.9"/>
<rect x="98.6" y="735" width="2.7" height="13" fill="#d9dce4" opacity="0.78"/>
<rect x="105" y="735" width="2.7" height="13.5" fill="#d9dce4" opacity="0.9"/>
<rect x="111.4" y="735" width="2.7" height="19" fill="#d9dce4" opacity="0.78"/>
<path d="M145.1 773.4 V728.3 H161 V720.4 H168.5 V715.8 H197.1 V720.4 H206.1 V728.3 H221.4 V773.4 Z" fill="url(#portg)"/>
<path d="M162 728.3 V721.4 H169.5 V716.8 H196.1 V721.4 H205.1 V728.3 Z" fill="#3b3f4c" opacity=".9"/>
<rect x="153.1" y="733.4" width="50.7" height="3" fill="#c9cdd7" opacity=".9"/>
<rect x="153.5" y="735" width="2.7" height="13.5" fill="#d9dce4" opacity="0.9"/>
<rect x="159.8" y="735" width="2.7" height="12.5" fill="#d9dce4" opacity="0.78"/>
<rect x="166.1" y="735" width="2.7" height="14.5" fill="#d9dce4" opacity="0.9"/>
<rect x="172.4" y="735" width="2.7" height="13" fill="#d9dce4" opacity="0.78"/>
<rect x="178.7" y="735" width="2.7" height="14.5" fill="#d9dce4" opacity="0.9"/>
<rect x="185" y="735" width="2.7" height="13" fill="#d9dce4" opacity="0.78"/>
<rect x="191.3" y="735" width="2.7" height="13.5" fill="#d9dce4" opacity="0.9"/>
<rect x="197.6" y="735" width="2.7" height="19" fill="#d9dce4" opacity="0.78"/>
<path d="M230.4 773.4 V728.3 H246.5 V720.4 H254.2 V715.8 H283.3 V720.4 H292.5 V728.3 H308 V773.4 Z" fill="url(#portg)"/>
<path d="M247.5 728.3 V721.4 H255.2 V716.8 H282.3 V721.4 H291.5 V728.3 Z" fill="#3b3f4c" opacity=".9"/>
<rect x="238.5" y="733.4" width="51.6" height="3" fill="#c9cdd7" opacity=".9"/>
<rect x="238.9" y="735" width="2.7" height="13.5" fill="#d9dce4" opacity="0.9"/>
<rect x="245.4" y="735" width="2.7" height="12.5" fill="#d9dce4" opacity="0.78"/>
<rect x="251.8" y="735" width="2.7" height="14.5" fill="#d9dce4" opacity="0.9"/>
<rect x="258.2" y="735" width="2.7" height="13" fill="#d9dce4" opacity="0.78"/>
<rect x="264.6" y="735" width="2.7" height="14.5" fill="#d9dce4" opacity="0.9"/>
<rect x="271" y="735" width="2.7" height="13" fill="#d9dce4" opacity="0.78"/>
<rect x="277.4" y="735" width="2.7" height="13.5" fill="#d9dce4" opacity="0.9"/>
<rect x="283.8" y="735" width="2.7" height="19" fill="#d9dce4" opacity="0.78"/>
<rect x="58" y="805.4" width="79" height="43.9" fill="url(#portg2)"/>
<rect x="75.5" y="849" width="45" height="10.5" fill="#14161e"/>
<rect x="84.4" y="859.3" width="26.9" height="4.2" fill="#1b1d25"/>
<rect x="76.2" y="815" width="31.6" height="23" fill="#2b2f3f" opacity=".9"/>
<rect x="61.5" y="827.6" width="10.6" height="5.7" fill="#50556a" opacity=".65"/>
<rect x="114.2" y="827.6" width="20.5" height="5.7" fill="#50556a" opacity=".65"/>
<rect x="79.8" y="851" width="25.6" height="3.4" fill="#b5b7bd"/>
<rect x="85.6" y="857.2" width="24.6" height="2.8" fill="#8e9096"/>
<rect x="145.1" y="805.4" width="76.9" height="43.9" fill="url(#portg2)"/>
<rect x="162.2" y="849" width="43.8" height="10.5" fill="#14161e"/>
<rect x="170.8" y="859.3" width="26.2" height="4.2" fill="#1b1d25"/>
<rect x="162.8" y="815" width="30.8" height="23" fill="#2b2f3f" opacity=".9"/>
<rect x="148.5" y="827.6" width="10.3" height="5.7" fill="#50556a" opacity=".65"/>
<rect x="199.8" y="827.6" width="19.9" height="5.7" fill="#50556a" opacity=".65"/>
<rect x="166.3" y="851" width="24.9" height="3.4" fill="#b5b7bd"/>
<rect x="171.9" y="857.2" width="23.9" height="2.8" fill="#8e9096"/>
<rect x="231.2" y="805.4" width="76.8" height="43.9" fill="url(#portg2)"/>
<rect x="248.2" y="849" width="43.8" height="10.5" fill="#14161e"/>
<rect x="256.9" y="859.3" width="26.2" height="4.2" fill="#1b1d25"/>
<rect x="248.9" y="815" width="30.7" height="23" fill="#2b2f3f" opacity=".9"/>
<rect x="234.6" y="827.6" width="10.3" height="5.7" fill="#50556a" opacity=".65"/>
<rect x="285.8" y="827.6" width="19.9" height="5.7" fill="#50556a" opacity=".65"/>
<rect x="252.4" y="851" width="24.9" height="3.4" fill="#b5b7bd"/>
<rect x="258" y="857.2" width="23.9" height="2.8" fill="#8e9096"/>
<g font-family="'Liberation Sans',sans-serif" font-weight="bold" font-size="13.2">
<text x="181.4" y="702.4" fill="#ececec" textLength="16.6" lengthAdjust="spacingAndGlyphs">21</text>
<text x="238.4" y="703.6" fill="#d8993a" textLength="71.2" lengthAdjust="spacingAndGlyphs">23(Uplink)</text>
<text x="181.6" y="889.8" fill="#ececec" textLength="16.6" lengthAdjust="spacingAndGlyphs">22</text>
<text x="238" y="890.8" fill="#d8993a" textLength="71" lengthAdjust="spacingAndGlyphs">24(Uplink)</text>
</g>
</g></g>
<path d="M224.6 925.8 L277.5 913.2 L274.2 920 C262 929 254.5 941 251 953.2 L247.6 957.6 C245 948 240.5 939.5 233 932.2 C230.5 929.8 228 927.8 224.6 925.8 Z" fill="url(#tailg)"/>
</g>
<!--/PHOTO-->
<!--BOXES-->
<g id="boxes">
<path d="M358 695 H544 M376.5 817.3 H542 M356 942.8 H541" stroke="#6a6a6a" stroke-width="1.4" fill="none"/>
<rect x="550.2" y="633.9" width="167.6" height="116" rx="5" fill="#cfcfcf" opacity=".55"/><rect x="549.6" y="632.3" width="167.6" height="116" rx="5" fill="url(#boxg)" stroke="#707070" stroke-width="1.4"/><rect x="551.1" y="633.8" width="164.6" height="113" rx="3.6" fill="none" stroke="#f6f6f6" stroke-width="1.2"/>
<rect x="549.2" y="761.6" width="166.6" height="115.3" rx="5" fill="#cfcfcf" opacity=".55"/><rect x="548.6" y="760" width="166.6" height="115.3" rx="5" fill="url(#boxg)" stroke="#707070" stroke-width="1.4"/><rect x="550.1" y="761.5" width="163.6" height="112.3" rx="3.6" fill="none" stroke="#f6f6f6" stroke-width="1.2"/>
<rect x="550.2" y="888.9" width="167.2" height="115.8" rx="5" fill="#cfcfcf" opacity=".55"/><rect x="549.6" y="887.3" width="167.2" height="115.8" rx="5" fill="url(#boxg)" stroke="#707070" stroke-width="1.4"/><rect x="551.1" y="888.8" width="164.2" height="112.8" rx="3.6" fill="none" stroke="#f6f6f6" stroke-width="1.2"/>
<rect x="574.2" y="644.2" width="112.5" height="78.9" rx="3" fill="#bec3c6"/>
<rect x="578.5" y="648.6" width="103.9" height="65.9" fill="#44aae1"/>
<path d="M596.5 714.5 L682.4 662.3 V714.5 Z" fill="#2f8ac1"/>
<path d="M617 723.1 H645.8 L653 741.6 H608 Z" fill="#91a6a5"/>
<path d="M617 723.1 H645.8 L647.8 728.6 H614.9 Z" fill="#7f9594"/>
<path d="M636.3 786 C638.2 781.5 638.6 774.5 634 768.4" stroke="#3a3a3a" stroke-width="1.7" fill="none" stroke-linecap="round"/>
<rect x="626.6" y="783.6" width="19.2" height="5" rx="1.5" fill="#f2f2f2"/>
<path d="M600 786.6 H668 C682 786.6 689.4 797 689.2 812 C689.5 830 688.5 846 685 853.5 C682 861 674 863.6 666 863.2 C656 862.8 650.8 857 649 848 C647.6 840 646.6 831 642.2 827 C639.5 824.4 628.5 824.4 625.8 827 C621.4 831 620.4 840 619 848 C617.2 857 612 862.8 602 863.2 C594 863.6 586 861 583 853.5 C579.5 846 578.5 830 578.6 812 C578.5 797 586 786.6 600 786.6 Z" fill="url(#padg)" stroke="#c6c6c6" stroke-width="1"/>
<circle cx="603.1" cy="812.4" r="17.6" fill="#dedede" stroke="#cfcfcf" stroke-width=".8"/>
<circle cx="664.4" cy="813.2" r="17.6" fill="#e6e6e6" stroke="#d6d6d6" stroke-width=".8"/>
<rect x="599.2" y="798.6" width="7.8" height="27.8" rx="1.6" fill="url(#dpadg)"/>
<rect x="588.3" y="808.5" width="29.8" height="7.8" rx="1.6" fill="url(#dpadg2)"/>
<circle cx="664.4" cy="803.1" r="4.5" fill="url(#bb)"/>
<circle cx="654.7" cy="813.2" r="4.5" fill="url(#bg2)"/>
<circle cx="674.3" cy="813" r="4.5" fill="url(#br)"/>
<circle cx="664.4" cy="823.1" r="4.5" fill="url(#bo)"/>
<g clip-path="url(#vidclip)">
<rect x="591.7" y="902.8" width="83" height="83" fill="url(#vidg)"/>
<path d="M591.7 985.8 L674.7 926.9 V985.8 Z" fill="#0f8fe0" opacity=".35"/>
<rect x="591.7" y="902.8" width="83" height="24.3" fill="#f4f4f4"/>
<path d="M568.4 902.8 h8.7 l12.1 12.1 l-12.1 12.2 h-8.7 l12.1 -12.2 Z" fill="#1c1c1c"/>
<path d="M585.8 902.8 h8.7 l12.1 12.1 l-12.1 12.2 h-8.7 l12.1 -12.2 Z" fill="#1c1c1c"/>
<path d="M603.2 902.8 h8.7 l12.1 12.1 l-12.1 12.2 h-8.7 l12.1 -12.2 Z" fill="#1c1c1c"/>
<path d="M620.6 902.8 h8.7 l12.1 12.1 l-12.1 12.2 h-8.7 l12.1 -12.2 Z" fill="#1c1c1c"/>
<path d="M638 902.8 h8.7 l12.1 12.1 l-12.1 12.2 h-8.7 l12.1 -12.2 Z" fill="#1c1c1c"/>
<path d="M655.4 902.8 h8.7 l12.1 12.1 l-12.1 12.2 h-8.7 l12.1 -12.2 Z" fill="#1c1c1c"/>
<path d="M672.8 902.8 h8.7 l12.1 12.1 l-12.1 12.2 h-8.7 l12.1 -12.2 Z" fill="#1c1c1c"/>
<rect x="591.7" y="926.5" width="83" height="1.3" fill="#0b6fb8" opacity=".55"/>
</g>
<path d="M624.6 940 L649.4 955.3 Q651.2 956.6 649.4 957.9 L624.6 973.2 Q623 974 623 972 V941.2 Q623 939.2 624.6 940 Z" fill="url(#playg)"/>
</g>
<!--/BOXES-->
</svg>

<!-- TEXT LAYER -->
<div class="t thin" id="h1">VLAN isolation</div>
<div class="t thin p1" id="a1">Port 1<span style="margin:0 2.6px 0 3px">–</span>22 can not communicate with each other and can only be</div>
<div class="t thin p1" id="a2">performed with port 23/24.Communication, 23, 24 ports can</div>
<div class="t thin p1" id="a3">communicate with each other, effectively suppress Network Storm,</div>
<div class="t thin p1" id="a4">Enhancing Network Security</div>
<div class="t thin" id="sc">Server Connection</div>
<div class="t thin" id="up">23(Uplink).24(Uplink)</div>

<div class="t thin p2" id="b1">Gate 23 can be used as an uplink interface, 24 off flow control,</div>
<div class="t thin p2" id="b2">Other ports negotiate to open flow control and optimize networks such as diskette systems</div>
<div class="t thin p2" id="b3">Application, guarantee online game, video fluency</div>

<!-- WATERMARK LAYER -->
<svg id="wm" width="790" height="1052" viewBox="0 0 790 1052">
<!--WM-->
<defs><clipPath id="wmclip"><rect x="5" y="0" width="770" height="1052"/></clipPath>
<clipPath id="wmdark"><circle cx="231.4" cy="779.8" r="147.2"/><rect x="574.2" y="644.2" width="112.5" height="78.9"/></clipPath></defs>
<g clip-path="url(#wmclip)">
<text class="wm" transform="translate(-34.8 99.1) rotate(26.7)" x="0" y="0" textLength="158.8" lengthAdjust="spacing">Shop1103582010 Store</text>
<text class="wm" transform="translate(214 110.4) rotate(26.7)" x="0" y="0" textLength="158.8" lengthAdjust="spacing">Shop1103582010 Store</text>
<text class="wm" transform="translate(463.3 119.8) rotate(26.7)" x="0" y="0" textLength="158.8" lengthAdjust="spacing">Shop1103582010 Store</text>
<text class="wm" transform="translate(712.2 128.9) rotate(26.7)" x="0" y="0" textLength="158.8" lengthAdjust="spacing">Shop1103582010 Store</text>
<text class="wm" transform="translate(78.3 352.3) rotate(26.7)" x="0" y="0" textLength="158.8" lengthAdjust="spacing">Shop1103582010 Store</text>
<text class="wm" transform="translate(328.3 363.7) rotate(26.7)" x="0" y="0" textLength="158.8" lengthAdjust="spacing">Shop1103582010 Store</text>
<text class="wm" transform="translate(578 373.5) rotate(26.7)" x="0" y="0" textLength="158.8" lengthAdjust="spacing">Shop1103582010 Store</text>
<text class="wm" transform="translate(-57.8 598.2) rotate(26.7)" x="0" y="0" textLength="158.8" lengthAdjust="spacing">Shop1103582010 Store</text>
<text class="wm" transform="translate(193.3 607.6) rotate(26.7)" x="0" y="0" textLength="158.8" lengthAdjust="spacing">Shop1103582010 Store</text>
<text class="wm" transform="translate(443.3 619.8) rotate(26.7)" x="0" y="0" textLength="158.8" lengthAdjust="spacing">Shop1103582010 Store</text>
<text class="wm" transform="translate(692 628.1) rotate(26.7)" x="0" y="0" textLength="158.8" lengthAdjust="spacing">Shop1103582010 Store</text>
</g>
<g clip-path="url(#wmdark)">
<text class="wm wl" transform="translate(193.3 607.6) rotate(26.7)" x="0" y="0" textLength="158.8" lengthAdjust="spacing">Shop1103582010 Store</text>
<text class="wm wl" transform="translate(443.3 619.8) rotate(26.7)" x="0" y="0" textLength="158.8" lengthAdjust="spacing">Shop1103582010 Store</text>
</g>
<!--/WM-->
</svg>
</div>
</body>
</html>
